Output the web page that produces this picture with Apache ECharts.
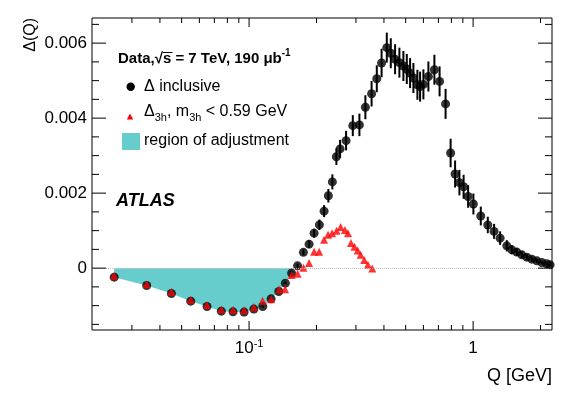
<!DOCTYPE html>
<html>
<head>
<meta charset="utf-8">
<script src="https://cdn.jsdelivr.net/npm/echarts@6/dist/echarts.min.js"></script>
<style>
  html, body { margin: 0; padding: 0; background: #fff; }
  #chart { width: 581px; height: 394px; }
</style>
</head>
<body>
<div id="chart"></div>
<script>
// Δ inclusive: Q [GeV], Δ(Q), error
var qIncl = [0.0250, 0.0349, 0.0450, 0.0549, 0.0649, 0.0752, 0.0848, 0.0950,
  0.1050, 0.1151, 0.1254, 0.1357, 0.1452, 0.1548, 0.1646, 0.1748,
  0.1853, 0.1951, 0.2060, 0.2162, 0.2259, 0.2354, 0.2453, 0.2548,
  0.2710, 0.2904, 0.3108, 0.3305, 0.3523, 0.3716, 0.3904, 0.4118,
  0.4291, 0.4485, 0.4688, 0.4885, 0.5058, 0.5233, 0.5414, 0.5641,
  0.5799, 0.6000, 0.6316, 0.6717, 0.7086, 0.7536, 0.7937, 0.8310,
  0.8687, 0.9070, 0.9500, 1.003, 1.082, 1.163, 1.241, 1.320,
  1.414, 1.489, 1.567, 1.650, 1.737, 1.828, 1.924, 2.026,
  2.133, 2.207]
var dIncl = [-0.00024, -0.000464, -0.000677, -0.00088, -0.001024, -0.001147, -0.001165, -0.001173,
  -0.001093, -0.001024, -0.000819, -0.000624, -0.0004, -0.000133, 0.000061, 0.000421,
  0.00064, 0.000933, 0.001155, 0.00152, 0.00193, 0.0023, 0.00297, 0.00318,
  0.0034, 0.0038, 0.00382, 0.00429, 0.00465, 0.00505, 0.00547, 0.00588,
  0.00573, 0.00557, 0.00548, 0.00539, 0.00531, 0.0052, 0.00507, 0.00489,
  0.00484, 0.0049, 0.00511, 0.00529, 0.00498, 0.00438, 0.00307, 0.00251,
  0.00228, 0.00217, 0.00191, 0.00171, 0.00139, 0.00115, 0.00098, 0.0008,
  0.000595, 0.000488, 0.000427, 0.000355, 0.000293, 0.00024, 0.000195, 0.00015,
  0.000115, 0.000088]
var eIncl = [0.00003, 0.00003, 0.00003, 0.00003, 0.00003, 0.00003, 0.00003, 0.00003,
  0.00003, 0.00003, 0.00003, 0.00003, 0.00003, 0.00005, 0.00006, 0.00008,
  0.0001, 0.00012, 0.00014, 0.00016, 0.00018, 0.0002, 0.00022, 0.00024,
  0.00026, 0.00028, 0.0003, 0.00032, 0.00034, 0.00036, 0.00038, 0.0004,
  0.0004, 0.0004, 0.0004, 0.0004, 0.0004, 0.0004, 0.0004, 0.0004,
  0.0004, 0.0004, 0.0004, 0.0004, 0.0004, 0.0004, 0.00038, 0.00036,
  0.00034, 0.00032, 0.0003, 0.00028, 0.00025, 0.00022, 0.0002, 0.00018,
  0.00015, 0.00012, 0.0001, 0.00009, 0.00008, 0.00007, 0.00006, 0.00005,
  0.00004, 0.00003]

// Δ3h, m3h < 0.59 GeV
var q3h = [0.0250, 0.0349, 0.0450, 0.0549, 0.0649, 0.0752, 0.0848, 0.0950,
  0.1050, 0.1149, 0.1254, 0.1360, 0.1448, 0.1550, 0.1647, 0.1748,
  0.1853, 0.1951, 0.2054, 0.2162, 0.2252, 0.2346, 0.2457, 0.2562,
  0.2679, 0.2764, 0.2851, 0.2955, 0.3053, 0.3148, 0.3266, 0.3393, 0.3547]
var d3h = [-0.000205, -0.00043, -0.00063, -0.000845, -0.00098, -0.0011, -0.00111, -0.001125,
  -0.001045, -0.00087, -0.00083, -0.000565, -0.000565, -0.00018, -0.00015, 0.00001,
  0.00014, 0.00044, 0.000435, 0.000755, 0.00089, 0.000933, 0.000995, 0.0011,
  0.00102, 0.000933, 0.000667, 0.00057, 0.00047, 0.000355, 0.00022, 0.00009, -0.00001]

// region of adjustment ends where Δ crosses zero
var adjustEnd = 0.158

var xRange = [0.0199, 2.25]
var yRange = [-0.00165, 0.00667]
var xMajor = [0.1, 1]
var xMinor = [0.03, 0.04, 0.05, 0.06, 0.07, 0.08, 0.09,
  0.2, 0.3, 0.4, 0.5, 0.6, 0.7, 0.8, 0.9, 2]
var yMajor = [0, 0.002, 0.004, 0.006]
var yMinor = [-0.0015, -0.001, -0.0005, 0.0005, 0.001, 0.0015, 0.0025, 0.003, 0.0035,
  0.0045, 0.005, 0.0055, 0.0065]

var FONT = '"Liberation Sans", Arial, Helvetica, sans-serif'
var CYAN = '#66cccc'

var inclData = qIncl.map(function (q, i) { return [q, dIncl[i], eIncl[i]] })
var lowData = q3h.map(function (q, i) { return [q, d3h[i]] })
var adjustData = []
qIncl.forEach(function (q, i) {
  if (q < adjustEnd) adjustData.push([q, dIncl[i]])
})
adjustData.push([adjustEnd, 0])

var chart = echarts.init(document.getElementById('chart'))

chart.setOption({
  animation: false,
  backgroundColor: '#fff',
  grid: {
    left: 92,
    right: 29,
    top: 18,
    bottom: 64,
    show: true,
    borderColor: '#000',
    borderWidth: 1,
    backgroundColor: 'transparent'
  },
  xAxis: {
    type: 'log',
    logBase: 10,
    min: xRange[0],
    max: xRange[1],
    axisLine: { show: false },
    axisTick: { show: false },
    splitLine: { show: false },
    minorTick: { show: false },
    axisLabel: {
      margin: 8,
      color: '#000',
      fontFamily: FONT,
      fontSize: 17,
      lineHeight: 20,
      showMinLabel: false,
      showMaxLabel: false,
      formatter: function (v) {
        var l = Math.log10(v)
        if (Math.abs(l - Math.round(l)) > 1e-6) return ''
        if (Math.round(l) === 0) return '1'
        return '{b|10}{s|' + Math.round(l) + '}'
      },
      rich: {
        b: { fontFamily: FONT, fontSize: 17, lineHeight: 20, verticalAlign: 'middle', color: '#000' },
        s: { fontFamily: FONT, fontSize: 11, lineHeight: 11, verticalAlign: 'top', color: '#000' }
      }
    }
  },
  yAxis: {
    type: 'value',
    min: yRange[0],
    max: yRange[1],
    splitNumber: 4,
    axisLine: { show: false },
    axisTick: { show: false },
    splitLine: { show: false },
    axisLabel: {
      margin: 5,
      color: '#000',
      fontFamily: FONT,
      fontSize: 17,
      showMinLabel: false,
      showMaxLabel: false,
      formatter: function (v) {
        for (var i = 0; i < yMajor.length; i++) {
          if (Math.abs(v - yMajor[i]) < 1e-9) return yMajor[i] === 0 ? '0' : yMajor[i].toFixed(3)
        }
        return ''
      }
    }
  },
  graphic: [
    {
      type: 'text', x: 39, y: 18, rotation: Math.PI / 2,
      style: { text: 'Δ(Q)', font: '16px ' + FONT, fill: '#000', align: 'right', verticalAlign: 'bottom' }
    },
    {
      type: 'text', x: 552, y: 376,
      style: { text: 'Q [GeV]', font: '18px ' + FONT, fill: '#000', align: 'right', verticalAlign: 'middle' }
    },
    {
      type: 'text', x: 118, y: 58.5,
      style: {
        text: '{b|Data,√s = 7 TeV, 190 μb}{sup|-1}',
        verticalAlign: 'middle',
        rich: {
          b: { font: 'bold 15px ' + FONT, fill: '#000', lineHeight: 20, verticalAlign: 'middle' },
          sup: { font: 'bold 10px ' + FONT, fill: '#000', lineHeight: 10, verticalAlign: 'top' }
        }
      }
    },
    {
      type: 'line', shape: { x1: 163, y1: 52.5, x2: 172.5, y2: 52.5 },
      style: { stroke: '#000', lineWidth: 1 }
    },
    { type: 'circle', shape: { cx: 130.7, cy: 86.7, r: 4.2 }, style: { fill: '#000' } },
    {
      type: 'text', x: 144, y: 87,
      style: { text: 'Δ inclusive', font: '16px ' + FONT, fill: '#000', verticalAlign: 'middle' }
    },
    {
      type: 'polygon', shape: { points: [[126.8, 119.5], [133.2, 119.5], [130, 113.5]] },
      style: { fill: '#ff0000' }
    },
    {
      type: 'text', x: 144, y: 112,
      style: {
        text: '{a|Δ}{sub|3h}{a|, m}{sub|3h}{a| < 0.59 GeV}',
        verticalAlign: 'middle',
        rich: {
          a: { font: '16px ' + FONT, fill: '#000', lineHeight: 22, verticalAlign: 'middle' },
          sub: { font: '11px ' + FONT, fill: '#000', lineHeight: 12, verticalAlign: 'bottom' }
        }
      }
    },
    { type: 'rect', shape: { x: 122, y: 133, width: 18, height: 17 }, style: { fill: CYAN } },
    {
      type: 'text', x: 144, y: 141,
      style: { text: 'region of adjustment', font: '16px ' + FONT, fill: '#000', verticalAlign: 'middle' }
    },
    {
      type: 'text', x: 116, y: 201,
      style: { text: 'ATLAS', font: 'italic bold 18px ' + FONT, fill: '#000', verticalAlign: 'middle' }
    }
  ],
  series: [
    {
      name: 'region of adjustment',
      type: 'line',
      data: adjustData,
      symbol: 'none',
      lineStyle: { width: 0 },
      areaStyle: { color: CYAN, opacity: 1 },
      z: 1,
      markLine: {
        silent: true,
        symbol: ['none', 'none'],
        label: { show: false },
        lineStyle: { type: 'dotted', color: '#bbbbbb', width: 1 },
        data: [{ yAxis: 0 }]
      }
    },
    {
      name: 'errors',
      type: 'custom',
      data: inclData,
      encode: { x: 0, y: 1 },
      z: 2,
      renderItem: function (params, api) {
        var q = api.value(0), d = api.value(1), e = api.value(2)
        var p1 = api.coord([q, d - e])
        var p2 = api.coord([q, d + e])
        return {
          type: 'line',
          shape: { x1: p1[0], y1: p1[1], x2: p2[0], y2: p2[1] },
          style: { stroke: '#000', lineWidth: 2 }
        }
      }
    },
    {
      name: 'Δ inclusive',
      type: 'scatter',
      data: inclData,
      encode: { x: 0, y: 1 },
      symbol: 'circle',
      symbolSize: 9,
      itemStyle: { color: '#000' },
      z: 3
    },
    {
      name: 'Δ3h',
      type: 'scatter',
      data: lowData,
      symbol: 'triangle',
      symbolSize: 8,
      itemStyle: { color: '#ff0000' },
      z: 4
    },
    {
      // inward ticks on all four sides, ROOT style
      name: 'ticks',
      type: 'custom',
      data: [[1, 0]],
      z: 5,
      silent: true,
      clip: false,
      renderItem: function (params, api) {
        var cs = params.coordSys
        var kids = []
        var bottom = cs.y + cs.height, right = cs.x + cs.width
        function xt(v, len) {
          var px = api.coord([v, 0])[0]
          kids.push({ type: 'line', shape: { x1: px, y1: bottom, x2: px, y2: bottom - len }, style: { stroke: '#000', lineWidth: 1 } })
          kids.push({ type: 'line', shape: { x1: px, y1: cs.y, x2: px, y2: cs.y + len }, style: { stroke: '#000', lineWidth: 1 } })
        }
        function yt(v, len) {
          var py = api.coord([1, v])[1]
          kids.push({ type: 'line', shape: { x1: cs.x, y1: py, x2: cs.x + len, y2: py }, style: { stroke: '#000', lineWidth: 1 } })
          kids.push({ type: 'line', shape: { x1: right, y1: py, x2: right - len, y2: py }, style: { stroke: '#000', lineWidth: 1 } })
        }
        xMajor.forEach(function (v) { xt(v, 9) })
        xMinor.forEach(function (v) { xt(v, 5) })
        yMajor.forEach(function (v) { yt(v, 14) })
        yMinor.forEach(function (v) { yt(v, 7) })
        return { type: 'group', children: kids }
      }
    }
  ]
})
</script>
</body>
</html>
